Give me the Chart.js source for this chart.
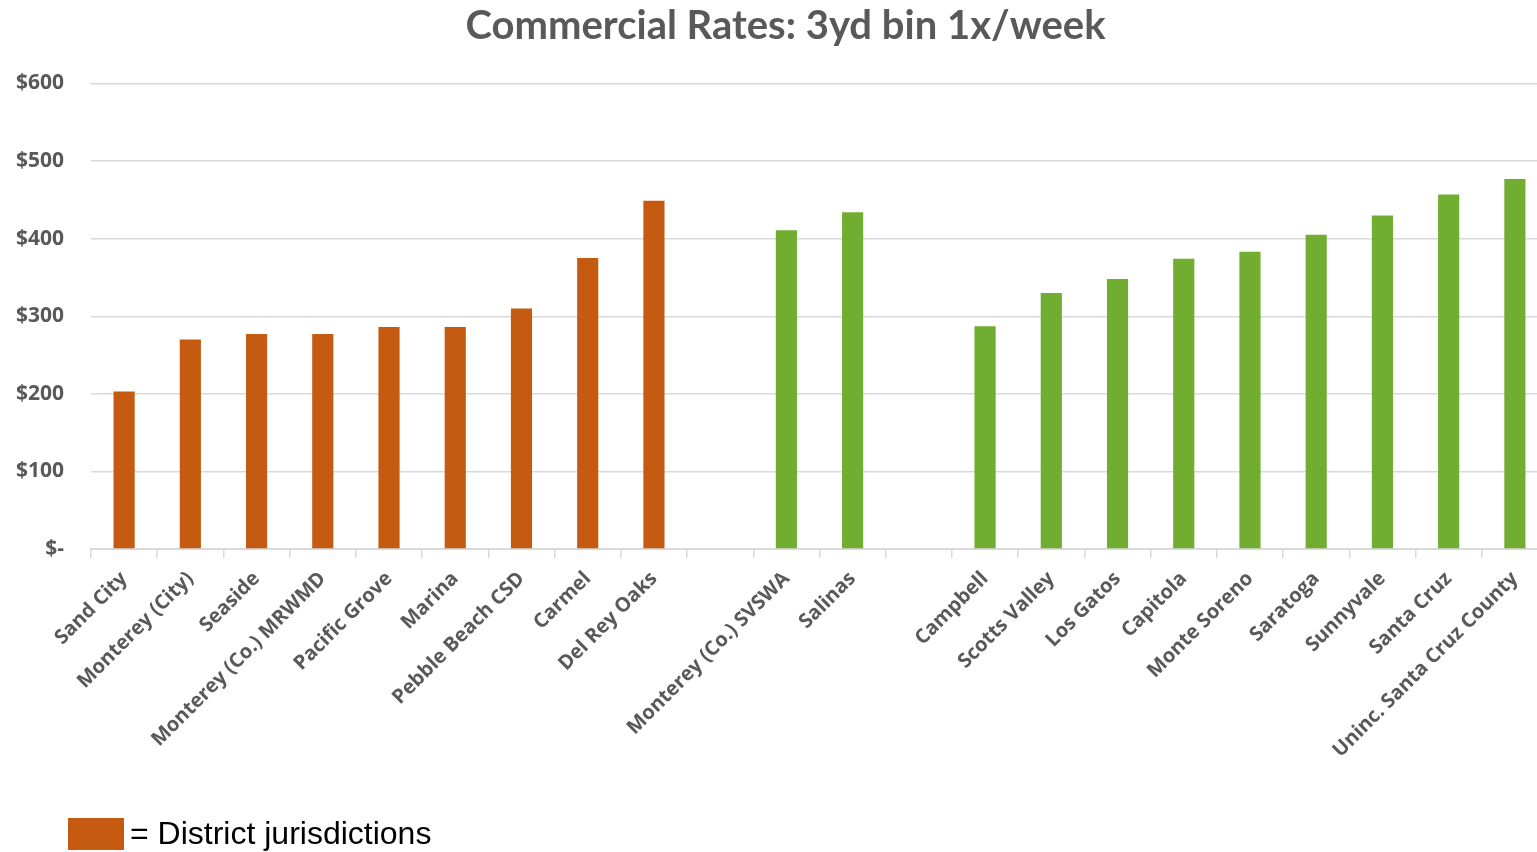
<!DOCTYPE html>
<html>
<head>
<meta charset="utf-8">
<script src="https://cdn.jsdelivr.net/npm/chart.js@4/dist/chart.umd.min.js"></script>
<style>
  html, body { margin: 0; padding: 0; background: #ffffff; overflow: hidden; width: 1537px; height: 852px; }
  #wrap { position: absolute; left: 0; top: 0; width: 1548px; height: 852px; }
  #title { position: absolute; left: 0; width: 1571px; top: 1px; text-align: center;
           font-family: Lato, "Open Sans", sans-serif; font-weight: 700; font-size: 40px; color: #595959; line-height: 46px; white-space: nowrap; }
  #legendBox { position: absolute; left: 68px; top: 818px; width: 56px; height: 32px; background: #C55A11; }
  #legendText { position: absolute; left: 130px; top: 815px; font-family: "Liberation Sans", Arial, sans-serif; font-size: 32px; color: #000; white-space: nowrap; }
</style>
</head>
<body>
<div id="wrap"><canvas id="c" width="1548" height="852"></canvas></div>
<div id="title">Commercial Rates: 3yd bin 1x/week</div>
<div id="legendBox"></div>
<div id="legendText">= District jurisdictions</div>
<script>
const categories = [
  'Sand City', 'Monterey (City)', 'Seaside', 'Monterey (Co.) MRWMD', 'Pacific Grove',
  'Marina', 'Pebble Beach CSD', 'Carmel', 'Del Rey Oaks', '',
  'Monterey (Co.) SVSWA', 'Salinas', '',
  'Campbell', 'Scotts Valley', 'Los Gatos', 'Capitola', 'Monte Soreno',
  'Saratoga', 'Sunnyvale', 'Santa Cruz', 'Uninc. Santa Cruz County'
];
const rates = [
  203, 270, 277, 277, 286, 286, 310, 375, 449, null,
  411, 434, null,
  287, 330, 348, 374, 383, 405, 430, 457, 477
];
const isDistrict = [
  true, true, true, true, true, true, true, true, true, false,
  false, false, false,
  false, false, false, false, false, false, false, false, false
];
const yTicks = [0, 100, 200, 300, 400, 500, 600];

const districtColor = '#C55A11';
const otherColor = '#71AD30';
const barColors = isDistrict.map(d => d ? districtColor : otherColor);
const axisFamily = "'Open Sans', 'DejaVu Sans', sans-serif";

function draw() {
  new Chart(document.getElementById('c'), {
    type: 'bar',
    data: {
      labels: categories,
      datasets: [{
        data: rates,
        backgroundColor: barColors,
        borderWidth: 0,
        barPercentage: 0.9,
        categoryPercentage: 0.355
      }]
    },
    options: {
      responsive: false,
      animation: false,
      layout: { padding: { top: 83.5, left: 0, right: 0, bottom: 0 } },
      plugins: { legend: { display: false }, title: { display: false }, tooltip: { enabled: false } },
      scales: {
        x: {
          grid: { display: true, drawOnChartArea: false, drawTicks: true, tickLength: 9, color: '#d9d9d9', lineWidth: 1.5, offset: true },
          border: { display: true, color: '#d9d9d9', width: 2 },
          ticks: {
            autoSkip: false, maxRotation: 45, minRotation: 45, padding: 9,
            color: '#595959', font: { family: axisFamily, weight: 700, size: 20 }
          },
          afterFit: (s) => { s.height = 852 - 549; s.paddingLeft = 0; s.paddingRight = 0; }
        },
        y: {
          min: 0, max: 600,
          afterBuildTicks: (s) => { s.ticks = yTicks.map(v => ({ value: v })); },
          grid: { color: '#d9d9d9', lineWidth: 1.5, drawTicks: false },
          border: { display: false },
          ticks: {
            padding: 27,
            color: '#595959', font: { family: axisFamily, weight: 700, size: 21 },
            callback: (v) => v === 0 ? '$-' : '$' + v
          },
          afterFit: (s) => { s.width = 91; s.paddingTop = 0; s.paddingBottom = 0; }
        }
      }
    }
  });
}

Promise.all([
  document.fonts.load("600 19px 'Open Sans'"),
  document.fonts.load("700 19px 'Open Sans'")
]).then(draw, draw);
</script>
</body>
</html>
